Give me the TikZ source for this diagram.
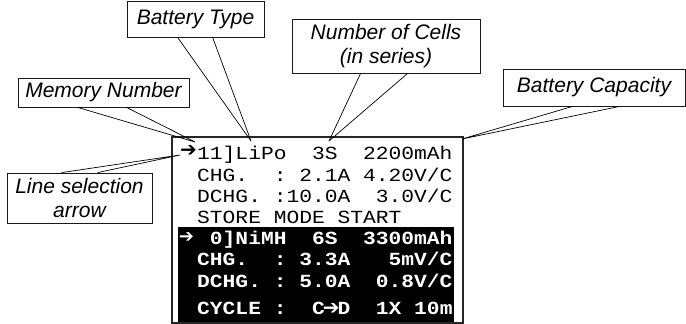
\documentclass[tikz,border=0pt]{standalone}
\usepackage{fontspec}
\setmainfont{Liberation Sans}
\newfontfamily\lcdfont[FakeStretch=1.15]{Liberation Mono}
\newfontfamily\dvfont{DejaVu Sans}
\usetikzlibrary{calc}
\newcommand{\lcdarr}{\makebox[0.69em]{\raisebox{-0.5pt}{\fontsize{20}{20}\dvfont ➔}}}
\begin{document}
\frenchspacing
\begin{tikzpicture}[x=1pt,y=-1pt,
  callout/.style={draw=black!90, line width=0.8pt, font=\fontsize{21}{23.5}\selectfont\itshape, inner sep=0pt, align=center},
  ptr/.style={draw=black, line width=0.7pt, line join=round},
  lcdw/.style={anchor=base west, inner sep=0pt, font=\fontsize{18.5}{24}\selectfont\lcdfont, text=black},
  lcdb/.style={anchor=base west, inner sep=0pt, font=\fontsize{18.5}{24}\selectfont\lcdfont\bfseries, text=white},
  selarrow/.style={anchor=center, inner sep=0pt, font=\fontsize{20}{20}\selectfont\dvfont},
]
\useasboundingbox (0,0) rectangle (686,324);

% LCD frame and inverted block
\draw[line width=1.2pt, draw=black!85] (172,137) rectangle (463,323);
\fill[black] (178,227) rectangle (454,322);

% LCD lines (normal)
\node[selarrow] (a1) at (188.5,151) {➔};
\node[lcdw] (w1) at (197,159) {11]LiPo~~3S~~2200mAh};
\node[lcdw] (w2) at (197,181) {CHG.~~:~2.1A~4.20V/C};
\node[lcdw] (w3) at (197,202.5) {DCHG.~:10.0A~~3.0V/C};
\node[lcdw] (w4) at (197,223.5) {STORE~MODE~START};

% LCD lines (inverted)
\node[selarrow, text=white, font=\fontsize{18}{18}\selectfont\dvfont] (a5) at (186.5,238) {➔};
\node[lcdb] (b5) at (197,244) {~0]NiMH~~6S~~3300mAh};
\node[lcdb] (b6) at (197,265.5) {CHG.~~:~3.3A~~~5mV/C};
\node[lcdb] (b7) at (197,287) {DCHG.~:~5.0A~~0.8V/C};
\node[lcdb] (b8) at (197,314) {CYCLE~:~~C\lcdarr D~~1X~10m};

% Callouts
\node[callout, minimum width=137pt, minimum height=36pt] (bt) at (195.5,19) {Battery Type};
\node[callout, minimum width=171pt, minimum height=29pt] (mem) at (103.5,92.5) {Memory Number};
\node[callout, minimum width=188pt, minimum height=54pt] (noc) at (386,46) {Number of Cells\\(in series)};
\node[callout, minimum width=182pt, minimum height=37pt] (cap) at (594,87.5) {Battery Capacity};
\node[callout, minimum width=145pt, minimum height=50pt] (lsa) at (79.5,198) {Line selection\\arrow};

% pointer tips
\coordinate (btTip) at (251,141);
\coordinate (memTip) at (195,142);
\coordinate (nocTip) at (329,141);
\coordinate (capTip) at (462,139);
\coordinate (lsaTip) at (180,155);

\draw[ptr] ([xshift=51pt]bt.south west) -- (btTip) -- ([xshift=86pt]bt.south west);
\draw[ptr] ([xshift=60pt]mem.south west) -- (memTip) -- ([xshift=109pt]mem.south west);
\draw[ptr] ([xshift=69pt]noc.south west) -- (nocTip) -- ([xshift=116pt]noc.south west);
\draw[ptr] ([xshift=70pt]cap.south west) -- (capTip) -- ([xshift=117pt]cap.south west);
\draw[ptr] ([xshift=55pt]lsa.north west) -- (lsaTip) -- ([xshift=91pt]lsa.north west);
\end{tikzpicture}
\end{document}
